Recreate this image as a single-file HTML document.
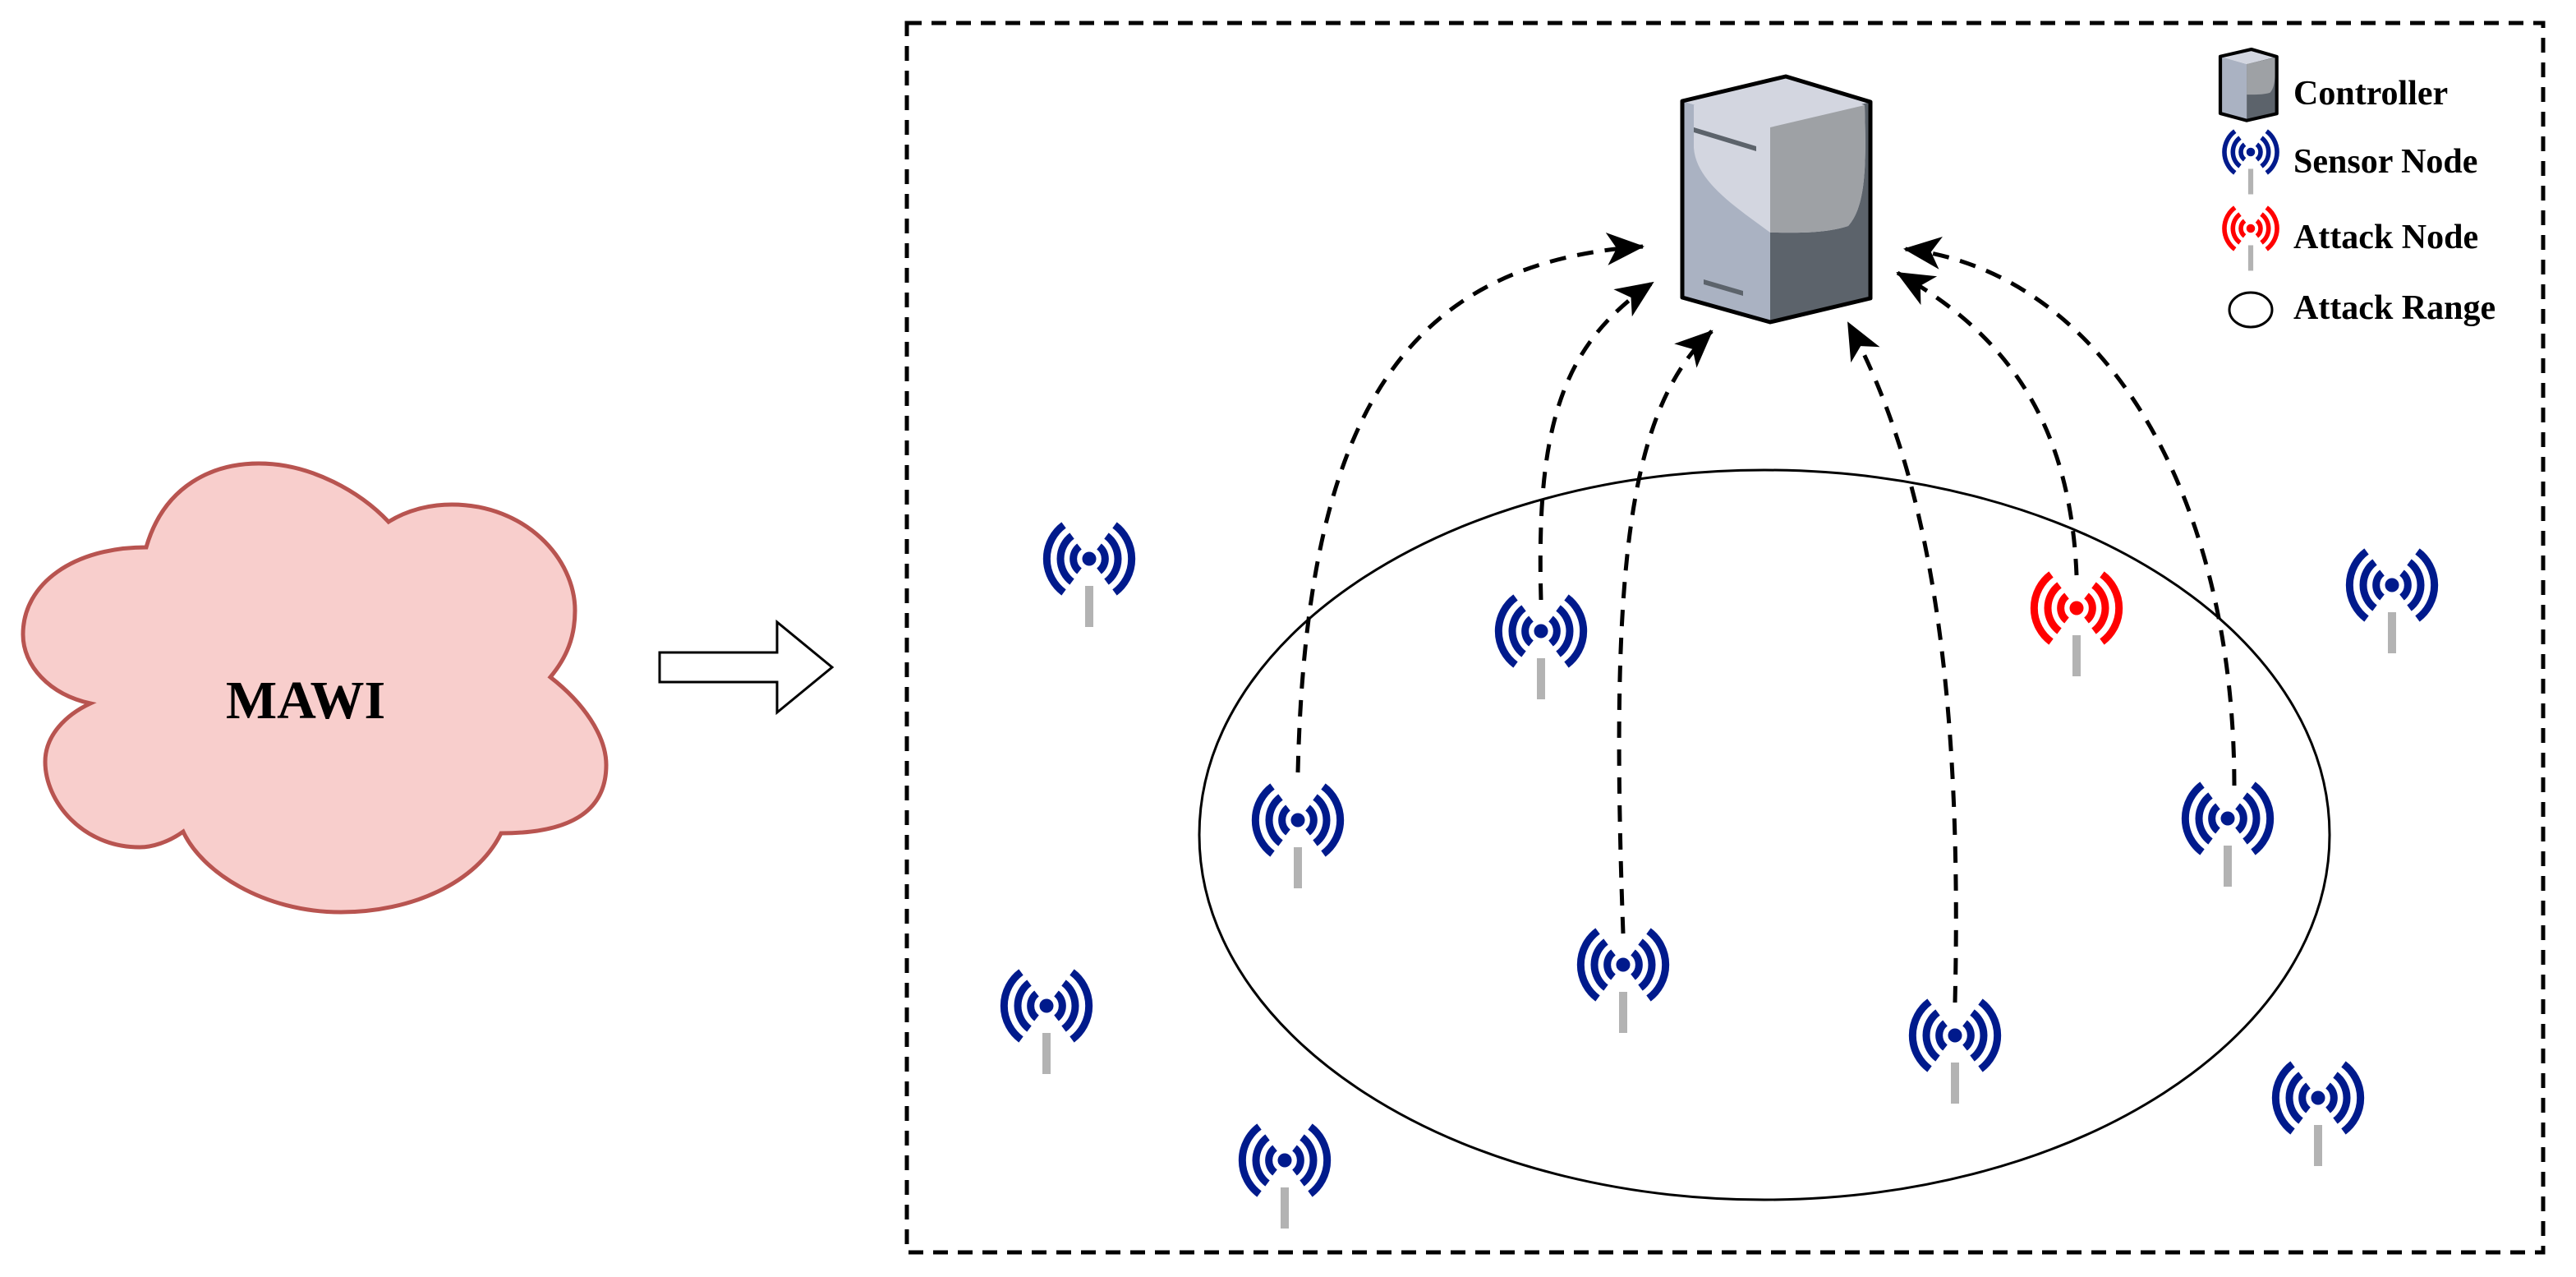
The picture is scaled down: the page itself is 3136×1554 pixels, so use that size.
<!DOCTYPE html>
<html><head><meta charset="utf-8"><style>
html,body{margin:0;padding:0;background:#fff;}
svg{display:block;}
text{font-family:"Liberation Serif",serif;font-weight:bold;fill:#000;}
</style></head><body>
<svg width="3136" height="1554" viewBox="0 0 3136 1554" xmlns="http://www.w3.org/2000/svg">
<defs>
<marker id="ah2" markerWidth="48" markerHeight="44" refX="44" refY="22" orient="auto" markerUnits="userSpaceOnUse">
<path d="M0,2 L46,22 L0,42 L12,22 Z" fill="#000"/>
</marker>
<g id="sn">
<circle cx="0" cy="0" r="8"/>
<path d="M-12,-15 A19,19 0 0 0 -12,15 M12,-15 A19,19 0 0 1 12,15" fill="none" stroke-width="9"/>
<path d="M-21,-28 A35,35 0 0 0 -21,28 M21,-28 A35,35 0 0 1 21,28" fill="none" stroke-width="9"/>
<path d="M-31,-41 A51,51 0 0 0 -31,41 M31,-41 A51,51 0 0 1 31,41" fill="none" stroke-width="9"/>
<rect x="-5" y="33" width="10" height="50" fill="#b3b3b3" stroke="none"/>
</g>
</defs>

<rect x="1104" y="28" width="1992" height="1496" fill="none" stroke="#000" stroke-width="5" stroke-dasharray="18 12"/>

<path d="M178,666 C200,590 260,564 315,564 C380,564 440,600 473,635 C500,618 530,614 550,614 C640,614 700,680 700,743 C700,775 690,800 670,824 C710,855 738,895 738,931 C738,990 690,1014 610,1014 C580,1075 500,1110 415,1110 C320,1110 245,1060 223,1012 C205,1025 185,1031 170,1031 C100,1031 55,975 55,927 C55,895 80,870 110,856 C60,845 28,810 28,772 C28,710 90,666 178,666 Z" fill="#f8cecc" stroke="#b85450" stroke-width="5"/>
<text x="372" y="874" font-size="66" text-anchor="middle">MAWI</text>

<path d="M803,794 L946,794 L946,757 L1013,812 L946,867 L946,830 L803,830 Z" fill="#fff" stroke="#000" stroke-width="3"/>

<ellipse cx="2148" cy="1016" rx="688" ry="444" fill="none" stroke="#000" stroke-width="3"/>

<g stroke="none">
<polygon points="2048,123 2155,155 2155,392 2048,362" fill="#aab2c2"/>
<polygon points="2155,155 2277,124 2277,363 2155,392" fill="#5c636b"/>
<polygon points="2048,123 2174,93 2277,124 2155,155" fill="#d3d6e0"/>
<path d="M2062,128 L2174,98 L2270,128 C2272,200 2272,250 2250,275 C2220,285 2180,283 2155,283 C2110,250 2065,220 2062,180 Z" fill="#d3d6e0"/>
<path d="M2155,155 L2270,128 C2272,200 2272,250 2250,275 C2220,285 2180,283 2155,283 Z" fill="#9ea1a5"/>
<polygon points="2062,155 2138,178 2138,184 2062,161" fill="#5c636b"/>
<polygon points="2074,340 2122,354 2122,360 2074,346" fill="#5c636b"/>
</g>
<polygon points="2048,123 2174,93 2277,124 2277,363 2155,392 2048,362" fill="none" stroke="#000" stroke-width="5" stroke-linejoin="round"/>

<g fill="none" stroke="#000" stroke-width="5" stroke-dasharray="20 14" marker-end="url(#ah2)">
<path d="M1580,940 C1590,520 1700,320 2000,300"/>
<path d="M1876,730 C1870,520 1900,420 2012,344"/>
<path d="M1976,1136 C1960,700 1980,500 2084,403"/>
<path d="M2380,1220 C2390,800 2340,560 2250,393"/>
<path d="M2528,700 C2520,500 2430,400 2310,332"/>
<path d="M2720,956 C2720,600 2560,330 2319,303"/>
</g>

<g fill="#001a8c" stroke="#001a8c">
<use href="#sn" x="1326" y="680"/>
<use href="#sn" x="1876" y="768"/>
<use href="#sn" x="1580" y="998"/>
<use href="#sn" x="1976" y="1174"/>
<use href="#sn" x="2380" y="1260"/>
<use href="#sn" x="2712" y="996"/>
<use href="#sn" x="2912" y="712"/>
<use href="#sn" x="1274" y="1224"/>
<use href="#sn" x="1564" y="1412"/>
<use href="#sn" x="2822" y="1336"/>
</g>
<g fill="#ff0000" stroke="#ff0000">
<use href="#sn" x="2528" y="740"/>
</g>

<g transform="translate(2703,60) scale(0.3,0.29) translate(-2048,-93)">
<polygon points="2048,123 2155,155 2155,392 2048,362" fill="#aab2c2"/>
<polygon points="2155,155 2277,124 2277,363 2155,392" fill="#5c636b"/>
<polygon points="2048,123 2174,93 2277,124 2155,155" fill="#d3d6e0"/>
<path d="M2155,155 L2270,128 C2272,200 2272,250 2250,275 C2220,285 2180,283 2155,283 Z" fill="#9ea1a5"/>
<polygon points="2048,123 2174,93 2277,124 2277,363 2155,392 2048,362" fill="none" stroke="#000" stroke-width="14" stroke-linejoin="round"/>
</g>
<g fill="#001a8c" stroke="#001a8c" transform="translate(2740,185) scale(0.62)"><use href="#sn"/></g>
<g fill="#ff0000" stroke="#ff0000" transform="translate(2740,278) scale(0.62)"><use href="#sn"/></g>
<ellipse cx="2740" cy="377" rx="26" ry="21" fill="none" stroke="#000" stroke-width="3"/>
<text x="2792" y="127" font-size="42">Controller</text>
<text x="2792" y="210" font-size="42">Sensor Node</text>
<text x="2792" y="302" font-size="42">Attack Node</text>
<text x="2792" y="388" font-size="42">Attack Range</text>
</svg>
</body></html>
